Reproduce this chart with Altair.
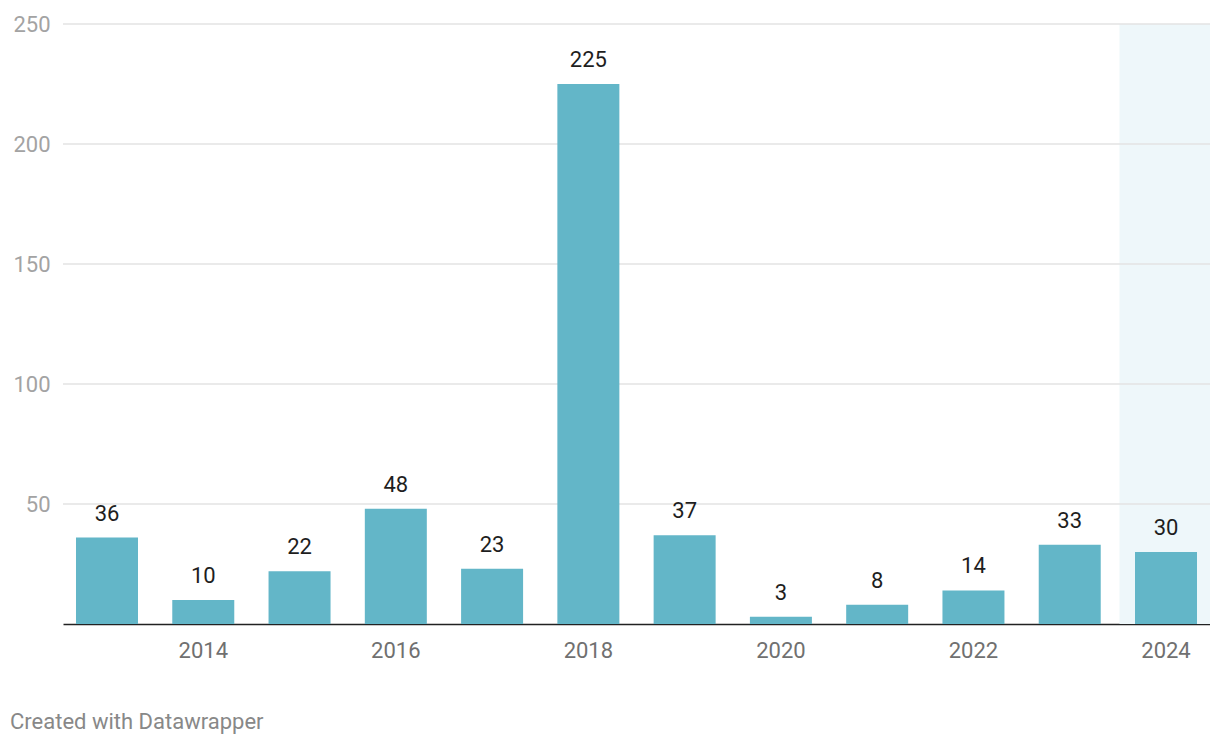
import altair as alt
import pandas as pd

years = [2013, 2014, 2015, 2016, 2017, 2018, 2019, 2020, 2021, 2022, 2023, 2024]
values = [36, 10, 22, 48, 23, 225, 37, 3, 8, 14, 33, 30]
highlight_years = [2024]
highlight_top = [250]
x_tick_labels = [2014, 2016, 2018, 2020, 2022, 2024]
y_ticks = [0, 50, 100, 150, 200, 250]
grid_values = [50, 100, 150, 200, 250]

df = pd.DataFrame({"year": years, "value": values})
hl = pd.DataFrame({"year": highlight_years, "top": highlight_top})
grid = pd.DataFrame({"v": grid_values})

FONT = "Roboto"
x_scale = alt.Scale(domain=years, paddingInner=0.356, paddingOuter=0.135)
y_scale = alt.Scale(domain=[0, 250], nice=False)

x_axis = alt.Axis(
    values=x_tick_labels,
    labelAngle=0,
    labelAlign="center",
    labelBaseline="middle",
    ticks=False,
    domain=True,
    domainColor="#222222",
    domainWidth=1.5,
    labelFont=FONT,
    labelFontSize=22,
    labelColor="#707070",
    labelPadding=26,
    grid=False,
    title=None,
)
y_axis = alt.Axis(
    values=y_ticks,
    labelExpr="datum.value == 0 ? '' : datum.label",
    domain=False,
    ticks=False,
    grid=False,
    labelFont=FONT,
    labelFontSize=22,
    labelColor="#a3a3a3",
    labelPadding=13,
    labelAlign="right",
    labelBaseline="middle",
    title=None,
)

highlight = alt.Chart(hl).mark_bar(
    color="#eef7fa", width=alt.RelativeBandSize(1.5), clip=True
).encode(
    x=alt.X("year:O", scale=x_scale, axis=x_axis, title=None),
    y=alt.Y("top:Q", scale=y_scale, axis=y_axis, title=None),
)

gridlines = alt.Chart(grid).mark_rule(color="#e3e3e3", strokeWidth=1.5).encode(
    y=alt.Y("v:Q", scale=y_scale, axis=y_axis, title=None),
)

bars = alt.Chart(df).mark_bar(color="#63b6c8").encode(
    x=alt.X("year:O", scale=x_scale, axis=x_axis, title=None),
    y=alt.Y("value:Q", scale=y_scale, axis=y_axis, title=None),
)

labels = alt.Chart(df).mark_text(
    font=FONT, fontSize=22, color="#1e1e1e", dy=-24, baseline="middle", align="center"
).encode(
    x=alt.X("year:O", scale=x_scale, axis=x_axis, title=None),
    y=alt.Y("value:Q", scale=y_scale, axis=y_axis, title=None),
    text=alt.Text("value:Q"),
)

chart = alt.layer(highlight, gridlines, bars, labels).properties(
    width=1147,
    height=600,
    background="white",
    autosize=alt.AutoSizeParams(type="none"),
    padding={"left": 55, "top": 16, "right": 0, "bottom": 112},
    title=alt.TitleParams(
        "Created with Datawrapper",
        orient="bottom",
        anchor="start",
        frame="group",
        font=FONT,
        fontSize=22,
        fontWeight="normal",
        color="#888888",
        dx=-53,
        offset=51,
    ),
).configure_view(strokeWidth=0, stroke="transparent")

chart.save("out.html", embed_options={"renderer": "svg", "actions": False})
